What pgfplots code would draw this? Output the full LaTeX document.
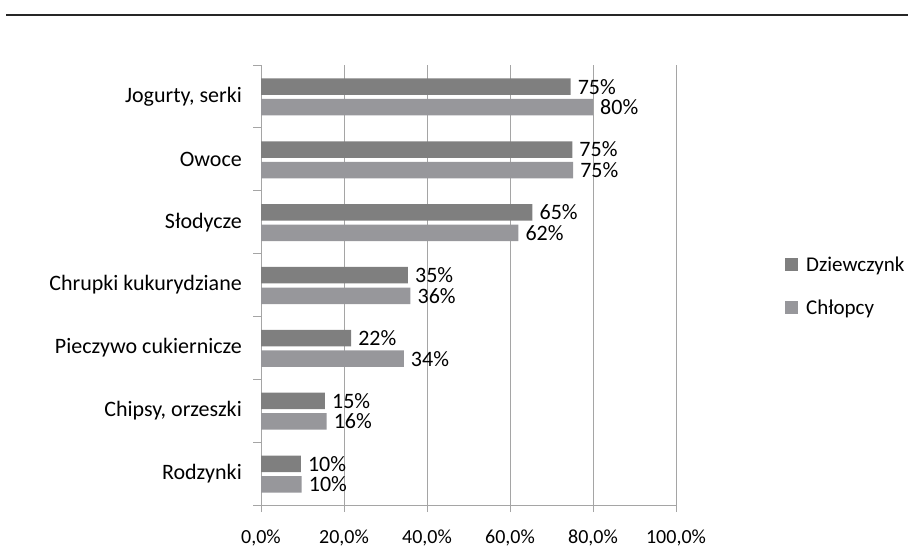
\documentclass[border=0pt]{standalone}
\usepackage{pgfplots}
\usepackage{pgfplotstable}
\pgfplotsset{compat=1.18}
\usepackage{fontspec}
\setmainfont{Carlito}
\definecolor{dark}{RGB}{127,127,127}
\definecolor{light}{RGB}{151,151,155}
\definecolor{gridc}{RGB}{165,165,165}
\newcommand\lbl{\fontsize{22bp}{26bp}\selectfont}
\newcommand\lgd{\fontsize{21bp}{25bp}\selectfont}
\newcommand\tck{\fontsize{20bp}{24bp}\selectfont}
\pgfplotstableread{
y d c
0 9.6 9.8
1 15.4 15.8
2 21.7 34.4
3 35.4 36.0
4 65.4 62.0
5 75.0 75.2
6 74.6 80.0
}\data
\begin{document}
\begin{tikzpicture}
\useasboundingbox (0bp,0bp) rectangle (908bp,550bp);
\draw[line width=2bp, black!85] (6bp,535bp) -- (908bp,535bp);
\begin{axis}[
  at={(261bp,45bp)}, anchor=south west,
  scale only axis, width=415bp, height=440bp,
  xmin=0, xmax=100, ymin=-0.5, ymax=6.5,
  xbar, bar width=16.5bp,
  axis x line*=bottom, axis y line*=left,
  axis line style={gridc, line width=1bp},
  xmajorgrids, major grid style={gridc, line width=1bp},
  xtick={0,20,40,60,80,100},
  xticklabels={{0,0\%},{20,0\%},{40,0\%},{60,0\%},{80,0\%},{100,0\%}},
  xticklabel style={font=\tck, anchor=north, inner sep=0pt, yshift=-18bp},
  ytick={0,...,6},
  yticklabels={Rodzynki,{Chipsy, orzeszki},Pieczywo cukiernicze,Chrupki kukurydziane,Słodycze,Owoce,{Jogurty, serki}},
  yticklabel style={font=\lbl, anchor=east, inner sep=0pt, xshift=-12bp},
  minor ytick={-0.5,0.5,...,6.5},
  tick align=outside,
  major tick length=7bp, minor tick length=8bp,
  every major y tick/.append style={draw=none},
  every tick/.append style={gridc, line width=1bp},
  xtick pos=bottom, ytick pos=left,
  nodes near coords={\pgfmathprintnumber[fixed,precision=0,assume math mode=true]{\pgfplotspointmeta}\%},
  nodes near coords style={font=\lbl, anchor=west, inner sep=0pt, xshift=7bp, black},
  legend style={draw=none, fill=none, at={(axis description cs:1.2554,0.4977)}, anchor=west,
    font=\lgd, row sep=27bp, column sep=8bp, nodes={inner sep=0pt}},
  legend cell align=left,
  legend image code/.code={\fill[#1] (0bp,-6.5bp) rectangle (13bp,6.5bp);},
]
\addplot[fill=dark, draw=none, bar shift=9.75bp] table[x=d,y=y]{\data};
\addplot[fill=light, draw=none, bar shift=-10.75bp] table[x=c,y=y]{\data};
\legend{Dziewczynk, Chłopcy}
\end{axis}
\end{tikzpicture}
\end{document}
